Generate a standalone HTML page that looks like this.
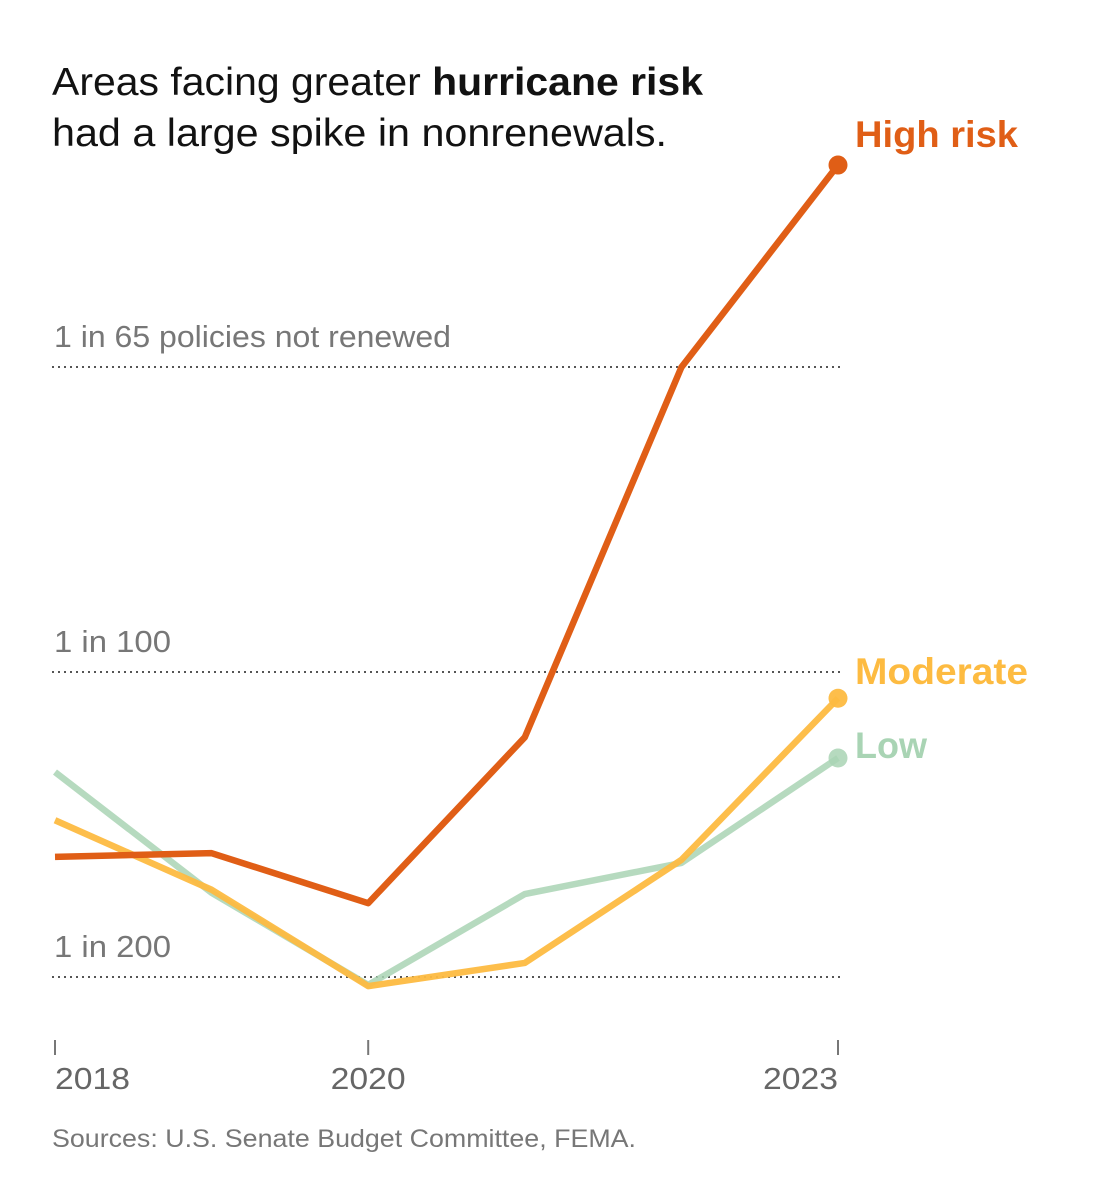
<!DOCTYPE html>
<html><head><meta charset="utf-8"><style>
html,body{margin:0;padding:0;background:#fff;}
svg{display:block;font-family:"Liberation Sans",sans-serif;}
</style></head><body>
<svg id="chart" width="1115" height="1200" viewBox="0 0 1115 1200">
<text x="52" y="95" font-size="39" fill="#121212" textLength="651" lengthAdjust="spacingAndGlyphs">Areas facing greater <tspan font-weight="bold">hurricane risk</tspan></text>
<text x="52" y="146" font-size="39" fill="#121212" textLength="615" lengthAdjust="spacingAndGlyphs">had a large spike in nonrenewals.</text>
<g id="grid"></g>
<g id="xaxis"></g>
<g id="series"></g>
<text x="52" y="1147" font-size="25" fill="#777" textLength="584" lengthAdjust="spacingAndGlyphs">Sources: U.S. Senate Budget Committee, FEMA.</text>
</svg>
<script>
const years = [2018, 2019, 2020, 2021, 2022, 2023];
const tickYears = [2018, 2020, 2023];
const gridValues = [1/200, 1/100, 1/65];
const gridLabels = ["1 in 200", "1 in 100", "1 in 65 policies not renewed"];
const highRisk = [0.00697, 0.00703, 0.00621, 0.00893, 0.01538, 0.01895];
const moderateRisk = [0.00757, 0.00643, 0.00485, 0.00523, 0.00692, 0.00957];
const lowRisk = [0.00836, 0.00638, 0.00487, 0.00636, 0.00687, 0.00859];

const NS = "http://www.w3.org/2000/svg";
function x(yr){ return 55 + (yr - 2018) * (838 - 55) / 5; }
const gridPx = [977, 672, 367];
function y(v){
  let i = v < gridValues[1] ? 0 : 1;
  const v0 = gridValues[i], v1 = gridValues[i+1];
  return gridPx[i] + (v - v0) / (v1 - v0) * (gridPx[i+1] - gridPx[i]);
}
function mk(tag, attrs, parent){
  const e = document.createElementNS(NS, tag);
  for (const k in attrs) e.setAttribute(k, attrs[k]);
  parent.appendChild(e); return e;
}
function fit(t, w){ t.setAttribute('textLength', w); t.setAttribute('lengthAdjust', 'spacingAndGlyphs'); }
const grid = document.getElementById('grid');
gridValues.forEach((v, i) => {
  const l = mk('line', {x1:52, x2:842, y1:y(v), y2:y(v), stroke:'#555', 'stroke-width':2, 'stroke-dasharray':'2 4'}, grid);
  
  
  const t = mk('text', {x:54, y:y(v) - 20, 'font-size':31, fill:'#777'}, grid);
  
  
  t.textContent = gridLabels[i];
  fit(t, i === 2 ? 397 : 117);
});
const xa = document.getElementById('xaxis');
tickYears.forEach((yr, i) => {
  const tk = mk('line', {x1:x(yr), x2:x(yr), y1:1040, y2:1055, stroke:'#777', 'stroke-width':2}, xa);
  
  
  const anchor = i === 0 ? 'start' : (i === tickYears.length - 1 ? 'end' : 'middle');
  const t = mk('text', {x:x(yr), y:1089, 'font-size':31, fill:'#666', 'text-anchor':anchor}, xa);
  
  
  t.textContent = yr;
  fit(t, 75);
});
const series = [
  {name:'low', vals:lowRisk, color:'#a9d4b4', op:0.85, label:'Low', dy:0, w:72},
  {name:'moderate', vals:moderateRisk, color:'#fdbb41', op:0.95, label:'Moderate', dy:-14, w:173},
  {name:'high', vals:highRisk, color:'#e05e16', op:1, label:'High risk', dy:-18, w:163},
];
const sg = document.getElementById('series');
series.forEach(s => {
  const d = s.vals.map((v, i) => (i ? 'L' : 'M') + x(years[i]) + ',' + y(v)).join(' ');
  const p = mk('path', {d:d, fill:'none', stroke:s.color, 'stroke-width':6.5, 'stroke-linejoin':'round', opacity:s.op}, sg);
  
  
  const last = s.vals.length - 1;
  const c = mk('circle', {cx:x(years[last]), cy:y(s.vals[last]), r:9.5, fill:s.color, opacity:s.op}, sg);
  
  
  const t = mk('text', {x:855, y:y(s.vals[last]) + s.dy, 'font-size':37, 'font-weight':'bold', fill:s.color}, sg);
  
  
  t.textContent = s.label;
  fit(t, s.w);
});
</script>
</body></html>
